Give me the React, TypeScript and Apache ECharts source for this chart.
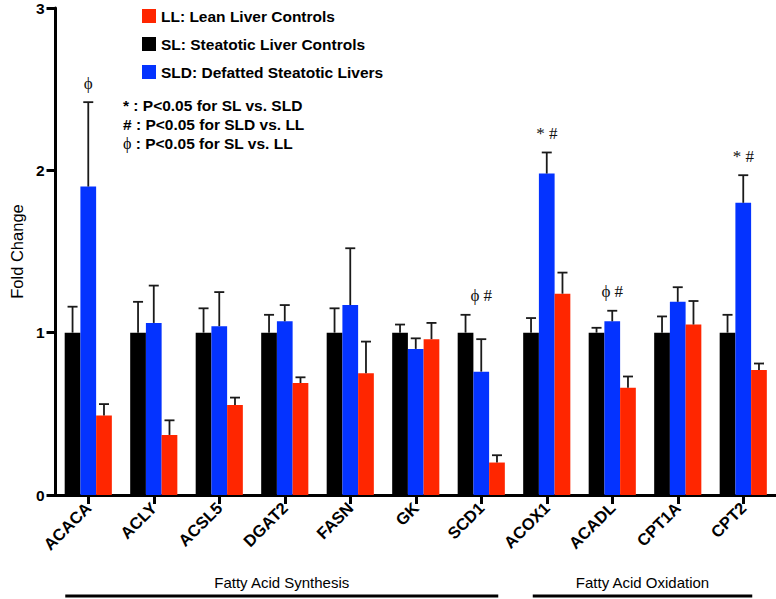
import React, { useEffect, useRef } from 'react';
import * as echarts from 'echarts';

// ---------- data ----------
const genes = ['ACACA', 'ACLY', 'ACSL5', 'DGAT2', 'FASN', 'GK', 'SCD1', 'ACOX1', 'ACADL', 'CPT1A', 'CPT2'];

const slName = 'SL: Steatotic Liver Controls';
const sldName = 'SLD: Defatted Steatotic Livers';
const llName = 'LL: Lean Liver Controls';

const slMean = [1, 1, 1, 1, 1, 1, 1, 1, 1, 1, 1];
const slTop = [1.16, 1.19, 1.15, 1.11, 1.15, 1.05, 1.11, 1.09, 1.03, 1.1, 1.11];

const sldMean = [1.9, 1.06, 1.04, 1.07, 1.17, 0.9, 0.76, 1.98, 1.07, 1.19, 1.8];
const sldTop = [2.42, 1.29, 1.25, 1.17, 1.52, 0.965, 0.96, 2.11, 1.135, 1.28, 1.97];

const llMean = [0.49, 0.37, 0.555, 0.69, 0.75, 0.96, 0.2, 1.24, 0.66, 1.05, 0.77];
const llTop = [0.56, 0.46, 0.6, 0.725, 0.945, 1.06, 0.245, 1.37, 0.73, 1.195, 0.81];

const sigMarks = ['\u03D5', '', '', '', '', '', '\u03D5 #', '* #', '\u03D5 #', '', '* #'];

const yTicks = [0, 1, 2, 3];

const noteLines = [
  '{s|*} : P<0.05 for SL vs. SLD',
  '# : P<0.05 for SLD vs. LL',
  '{p|\u03D5} : P<0.05 for SL vs. LL',
];

const groups = [
  { label: 'Fatty Acid Synthesis', from: 0, to: 6 },
  { label: 'Fatty Acid Oxidation', from: 7, to: 10 },
];

// ---------- styling ----------
const SANS = '"Liberation Sans", Arial, Helvetica, sans-serif';
const SERIF = '"Liberation Serif", "Times New Roman", serif';
const BLUE = '#0433FF';
const RED = '#FF2600';
const BLACK = '#000000';
const CAT_GAP = 0.28;

export default function App() {
  const ref = useRef<HTMLDivElement>(null);

  useEffect(() => {
    if (!ref.current) return;
    const chart = echarts.init(ref.current, null, { renderer: 'svg' });

    const defs = [
      { name: slName, mean: slMean, top: slTop, color: BLACK },
      { name: sldName, mean: sldMean, top: sldTop, color: BLUE },
      { name: llName, mean: llMean, top: llTop, color: RED },
    ];

    const barSeries = defs.map((d) => ({
      type: 'bar',
      name: d.name,
      data: d.mean,
      barGap: '0%',
      barCategoryGap: `${CAT_GAP * 100}%`,
      itemStyle: { color: d.color },
      z: 2,
    }));

    const errSeries = defs.map((d, k) => ({
      type: 'custom',
      data: genes.map((_, i) => [i, d.mean[i], d.top[i]]),
      z: 3,
      silent: true,
      renderItem: (params: any, api: any) => {
        const i = api.value(0);
        const m = api.value(1);
        const t = api.value(2);
        const band = api.size([1, 0])[0];
        const bw = (band * (1 - CAT_GAP)) / 3;
        const x = api.coord([i, 0])[0] + (k - 1) * bw;
        const yTop = api.coord([i, t])[1];
        const yBase = api.coord([i, m])[1];
        const st = { stroke: '#1a1a1a', lineWidth: 1.8 };
        return {
          type: 'group',
          children: [
            { type: 'line', shape: { x1: x, y1: yBase, x2: x, y2: yTop }, style: st },
            { type: 'line', shape: { x1: x - 5, y1: yTop, x2: x + 5, y2: yTop }, style: st },
          ],
        };
      },
    }));

    const sigSeries = {
      type: 'custom',
      data: genes.map((_, i) => [i, Math.max(slTop[i], sldTop[i], llTop[i])]),
      z: 4,
      silent: true,
      renderItem: (params: any, api: any) => {
        const txt = sigMarks[params.dataIndex];
        if (!txt) return null;
        const p = api.coord([api.value(0), api.value(1)]);
        return {
          type: 'text',
          x: p[0],
          y: p[1] - 19,
          style: {
            text: txt,
            font: `17px ${SERIF}`,
            fill: '#111',
            align: 'center',
            verticalAlign: 'middle',
          },
        };
      },
    };

    chart.setOption({
      animation: false,
      backgroundColor: '#ffffff',
      grid: { left: 43, right: 0, top: 7, bottom: 104 },
      legend: {
        data: [llName, slName, sldName],
        orient: 'vertical',
        left: 142,
        top: 8,
        padding: 0,
        itemWidth: 14,
        itemHeight: 14,
        itemGap: 12,
        icon: 'rect',
        selectedMode: false,
        textStyle: { fontFamily: SANS, fontWeight: 'bold', fontSize: 15.5, color: '#000' },
      },
      xAxis: {
        type: 'category',
        data: genes,
        axisLine: { lineStyle: { color: '#000', width: 3 } },
        axisTick: { show: true, alignWithLabel: true, length: 9, lineStyle: { color: '#000', width: 3 } },
        axisLabel: {
          rotate: 45,
          margin: 10,
          interval: 0,
          fontFamily: SANS,
          fontWeight: 'bold',
          fontSize: 16.5,
          color: '#000',
        },
        splitLine: { show: false },
      },
      yAxis: {
        type: 'value',
        min: yTicks[0],
        max: yTicks[yTicks.length - 1],
        interval: 1,
        name: 'Fold Change',
        nameLocation: 'middle',
        nameRotate: 90,
        nameGap: 28,
        nameTextStyle: { fontFamily: SANS, fontSize: 16.5, color: '#000' },
        axisLine: { show: true, lineStyle: { color: '#000', width: 3 } },
        axisTick: { show: true, length: 9, lineStyle: { color: '#000', width: 3 } },
        axisLabel: { margin: 11, fontFamily: SANS, fontWeight: 'bold', fontSize: 15.5, color: '#000' },
        splitLine: { show: false },
      },
      series: [...barSeries, ...errSeries, sigSeries],
    });

    const cx = (i: number) => chart.convertToPixel({ xAxisIndex: 0 }, genes[i]) as number;

    const graphics: any[] = [];
    noteLines.forEach((t, j) => {
      graphics.push({
        type: 'text',
        x: 123,
        y: 105 + j * 19,
        silent: true,
        style: {
          text: t,
          font: `bold 15.5px ${SANS}`,
          fill: '#000',
          verticalAlign: 'middle',
          rich: {
            p: { font: `16px ${SERIF}`, fill: '#000' },
            s: { font: `bold 15.5px ${SANS}`, fill: '#000' },
          },
        },
      });
    });
    groups.forEach((g, j) => {
      const a = cx(g.from);
      const b = cx(g.to);
      const x1 = a - (j === 0 ? 23 : 14);
      const x2 = b + (j === 0 ? 17 : 9);
      graphics.push({
        type: 'line',
        silent: true,
        shape: { x1, y1: 596, x2, y2: 596 },
        style: { stroke: '#000', lineWidth: 3 },
      });
      graphics.push({
        type: 'text',
        silent: true,
        x: (x1 + x2) / 2,
        y: 582,
        style: {
          text: g.label,
          font: `15px ${SANS}`,
          fill: '#000',
          align: 'center',
          verticalAlign: 'middle',
        },
      });
    });
    chart.setOption({ graphic: graphics });

    return () => chart.dispose();
  }, []);

  return (
    <div
      ref={ref}
      style={{ position: 'fixed', left: 0, top: 0, width: 776, height: 599, background: '#fff' }}
    />
  );
}
